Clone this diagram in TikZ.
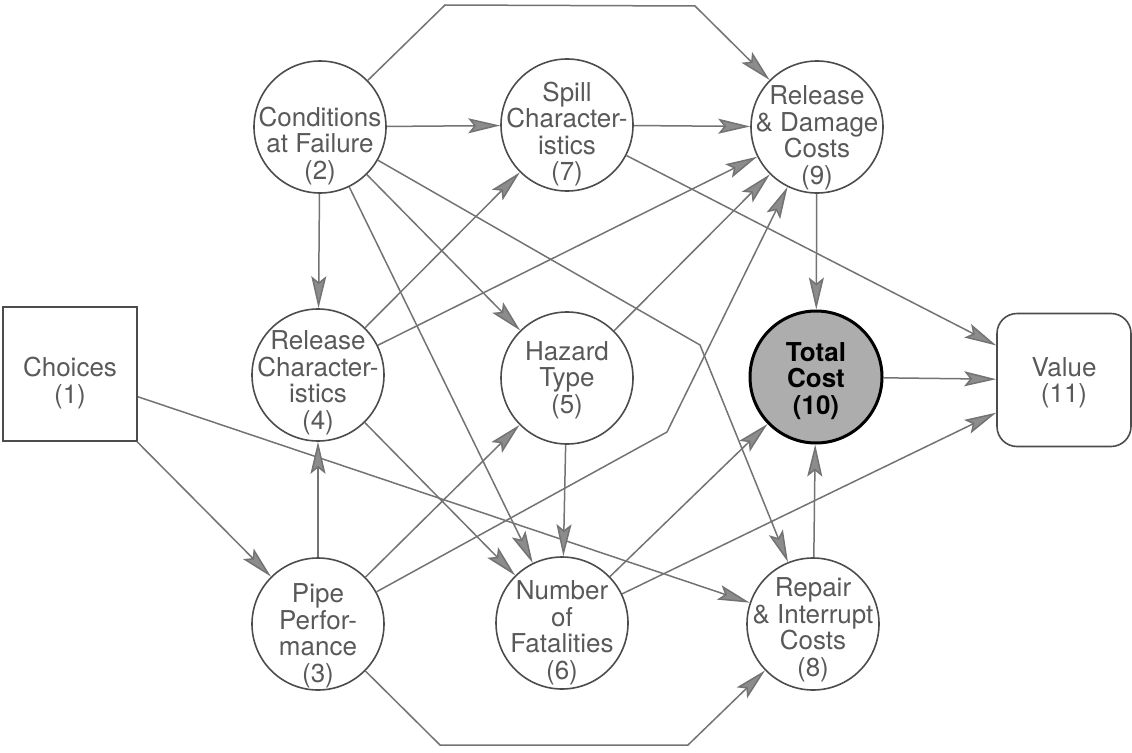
\documentclass[tikz,border=0pt]{standalone}
\usepackage{fontspec}
\setmainfont{TeX Gyre Heros}
\usetikzlibrary{arrows.meta,calc}
\begin{document}
\begin{tikzpicture}[x=1pt,y=-1pt,
  nd/.style={circle,draw=black!70,line width=1.6pt,minimum size=132pt,inner sep=0pt},
  tx/.style={align=center,text=black!65,font=\fontsize{26}{26.5}\selectfont,inner sep=0pt},
  ar/.style={draw=black!55,line width=1.5pt,-{Stealth[length=32pt,width=15pt,inset=6pt,fill=black!45]}}]
\useasboundingbox (0,0) rectangle (1132,752);
% nodes
\node[draw=black!70,line width=1.6pt,minimum size=134pt,inner sep=0pt] (n1) at (70,374) {};
\node[tx] (t1) at ([yshift=-9pt]n1.center) {Choices\\(1)};
\node[nd] (n2) at (320,127) {};
\node[tx] (t2) at ([yshift=-19pt]n2.center) {Conditions\\at Failure\\(2)};
\node[nd] (n7) at (567,125) {};
\node[tx] (t7) at ([yshift=-9pt]n7.center) {Spill\\Character-\\istics\\(7)};
\node[nd] (n9) at (817,127) {};
\node[tx] (t9) at ([yshift=-11pt]n9.center) {Release\\\& Damage\\Costs\\(9)};
\node[nd] (n4) at (318,375) {};
\node[tx] (t4) at ([yshift=-8pt]n4.center) {Release\\Character-\\istics\\(4)};
\node[nd] (n5) at (567,378) {};
\node[tx] (t5) at ([yshift=-2pt]n5.center) {Hazard\\Type\\(5)};
\node[nd,fill=black!32,draw=black,line width=3pt] (n10) at (816,377) {};
\node[tx,text=black,font=\fontsize{26}{26.5}\selectfont\bfseries] (t10) at ([yshift=-4pt]n10.center) {Total\\Cost\\(10)};
\node[nd] (n3) at (318,624) {};
\node[tx] (t3) at ([yshift=-12pt]n3.center) {Pipe\\Perfor-\\mance\\(3)};
\node[nd] (n6) at (562,623) {};
\node[tx] (t6) at ([yshift=-10pt]n6.center) {Number\\of\\Fatalities\\(6)};
\node[nd] (n8) at (813,624) {};
\node[tx] (t8) at ([yshift=-6pt]n8.center) {Repair\\\& Interrupt\\Costs\\(8)};
\node[draw=black!70,line width=1.6pt,minimum width=134pt,minimum height=133pt,rounded corners=20pt,inner sep=0pt] (n11) at (1064,380) {};
\node[tx] (t11) at ([yshift=-3pt]n11.center) {Value\\(11)};
% bend points
\coordinate (a1) at (445,5);
\coordinate (a2) at (695,6);
\coordinate (b1) at (440,745);
\coordinate (b2) at (688,745);
\coordinate (c1) at (700,345);
\coordinate (d1) at (667,432);
% edges
\draw[ar] (n1) -- (n3);
\draw[ar] (n1) -- (n8);
\draw[ar] (n2) -- (n7);
\draw[ar] (n2) -- (n4);
\draw[ar] (n2) -- (n5);
\draw[ar] (n2) -- (n6);
\draw[ar] (n2) -- (c1) -- (n8);
\draw[ar] (n2) -- (a1) -- (a2) -- (n9);
\draw[ar] (n4) -- (n7);
\draw[ar] (n4) -- (n9);
\draw[ar] (n4) -- (n6);
\draw[ar] (n3) -- (n4);
\draw[ar] (n3) -- (n5);
\draw[ar] (n3) -- (d1) -- (n9);
\draw[ar] (n3) -- (b1) -- (b2) -- (n8);
\draw[ar] (n5) -- (n9);
\draw[ar] (n5) -- (n6);
\draw[ar] (n7) -- (n9);
\draw[ar] (n7) -- (n11);
\draw[ar] (n9) -- (n10);
\draw[ar] (n6) -- (n10);
\draw[ar] (n6) -- (n11);
\draw[ar] (n8) -- (n10);
\draw[ar] (n10) -- (n11);
\end{tikzpicture}
\end{document}
